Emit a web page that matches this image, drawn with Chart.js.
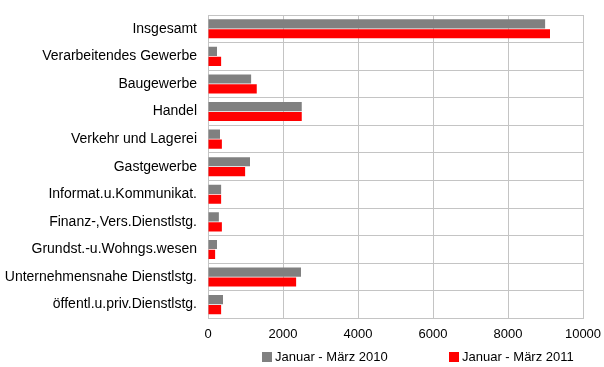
<!DOCTYPE html>
<html>
<head>
<meta charset="utf-8">
<script src="https://cdn.jsdelivr.net/npm/chart.js@4/dist/chart.umd.min.js"></script>
<style>
    body { margin: 0; background: #fff; font-family: "Liberation Sans", Arial, sans-serif; }
    #wrap { position: relative; width: 604px; height: 367px; }
    #box { position: absolute; left: 0; top: 0; width: 604px; height: 350px; }
    .leg { position: absolute; top: 349px; font-size: 13px; color: #000; white-space: nowrap; }
    .leg i { display: inline-block; width: 10px; height: 10px; margin-right: 3px; vertical-align: -1px; }
</style>
</head>
<body>
<div id="wrap">
    <div id="box"><canvas id="chart"></canvas></div>
    <div class="leg" style="left:262px"><i style="background:#808080"></i>Januar - März 2010</div>
    <div class="leg" style="left:449px"><i style="background:#ff0000"></i>Januar - März 2011</div>
</div>
<script>
const categories = [
    'Insgesamt',
    'Verarbeitendes Gewerbe',
    'Baugewerbe',
    'Handel',
    'Verkehr und Lagerei',
    'Gastgewerbe',
    'Informat.u.Kommunikat.',
    'Finanz-,Vers.Dienstlstg.',
    'Grundst.-u.Wohngs.wesen',
    'Unternehmensnahe Dienstlstg.',
    'öffentl.u.priv.Dienstlstg.'
];
const seriesNames = ['Januar - März 2010', 'Januar - März 2011'];
const values2010 = [8990, 240, 1150, 2500, 320, 1120, 350, 290, 240, 2480, 400];
const values2011 = [9120, 350, 1300, 2500, 370, 990, 350, 370, 190, 2350, 350];
const xTicks = [0, 2000, 4000, 6000, 8000, 10000];

const gridColor = '#c4c4c4';

const ctx = document.getElementById('chart');
new Chart(ctx, {
    type: 'bar',
    data: {
        labels: categories,
        datasets: [
            { label: seriesNames[0], data: values2010, backgroundColor: '#808080' },
            { label: seriesNames[1], data: values2011, backgroundColor: '#ff0000' }
        ]
    },
    options: {
        indexAxis: 'y',
        responsive: true,
        maintainAspectRatio: false,
        animation: false,
        categoryPercentage: 0.72,
        barPercentage: 0.92,
        layout: { padding: { top: 15, left: 0, right: 0, bottom: 0 } },
        plugins: {
            legend: { display: false },
            tooltip: { enabled: false }
        },
        scales: {
            x: {
                min: xTicks[0],
                max: xTicks[xTicks.length - 1],
                afterBuildTicks: (scale) => { scale.ticks = xTicks.map(v => ({ value: v })); },
                // room on the right for the "10000" label only
                afterFit: (scale) => { scale.paddingLeft = 0; scale.paddingRight = 21; },
                grid: { color: gridColor, drawTicks: false },
                border: { color: gridColor },
                ticks: {
                    color: '#000',
                    padding: 8,
                    font: { family: 'Liberation Sans', size: 13 },
                    callback: (value) => String(value)
                }
            },
            y: {
                // fixed width so the plot starts where the original does
                afterFit: (scale) => { scale.width = 208; scale.paddingTop = 0; scale.paddingBottom = 0; },
                grid: { color: gridColor, drawTicks: false },
                border: { color: gridColor },
                ticks: { color: '#000', padding: 11, font: { family: 'Liberation Sans', size: 14 } }
            }
        }
    }
});
</script>
</body>
</html>
